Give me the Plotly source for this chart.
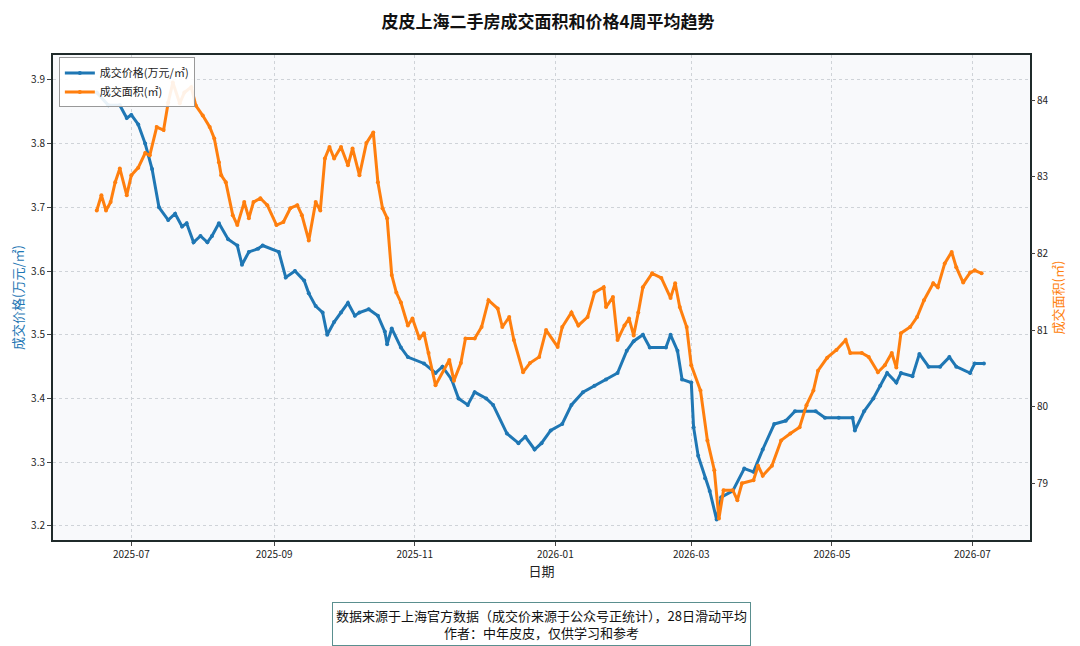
import plotly.graph_objects as go

price_dates = ["2025-06-16","2025-06-21","2025-06-26","2025-06-29","2025-07-01","2025-07-04","2025-07-07","2025-07-10","2025-07-13","2025-07-17","2025-07-20","2025-07-23","2025-07-25","2025-07-28","2025-07-31","2025-08-03","2025-08-05","2025-08-08","2025-08-12","2025-08-16","2025-08-18","2025-08-21","2025-08-25","2025-08-27","2025-09-03","2025-09-06","2025-09-10","2025-09-14","2025-09-16","2025-09-19","2025-09-22","2025-09-24","2025-09-27","2025-09-30","2025-10-03","2025-10-06","2025-10-08","2025-10-12","2025-10-16","2025-10-19","2025-10-20","2025-10-22","2025-10-26","2025-10-29","2025-11-05","2025-11-10","2025-11-13","2025-11-17","2025-11-20","2025-11-24","2025-11-27","2025-12-02","2025-12-05","2025-12-11","2025-12-16","2025-12-19","2025-12-23","2025-12-26","2025-12-30","2026-01-04","2026-01-08","2026-01-13","2026-01-18","2026-01-23","2026-01-28","2026-02-01","2026-02-04","2026-02-08","2026-02-11","2026-02-18","2026-02-20","2026-02-23","2026-02-25","2026-03-01","2026-03-02","2026-03-04","2026-03-07","2026-03-09","2026-03-12","2026-03-14","2026-03-19","2026-03-24","2026-03-28","2026-04-01","2026-04-06","2026-04-11","2026-04-15","2026-04-19","2026-04-24","2026-04-28","2026-05-04","2026-05-10","2026-05-11","2026-05-15","2026-05-19","2026-05-22","2026-05-25","2026-05-29","2026-05-31","2026-06-05","2026-06-08","2026-06-12","2026-06-17","2026-06-21","2026-06-24","2026-06-30","2026-07-02","2026-07-06"]
price_values = [3.88,3.86,3.86,3.84,3.845,3.83,3.80,3.76,3.70,3.68,3.69,3.67,3.675,3.645,3.655,3.645,3.655,3.675,3.65,3.64,3.61,3.63,3.635,3.64,3.63,3.59,3.60,3.585,3.565,3.545,3.535,3.50,3.52,3.535,3.55,3.53,3.535,3.54,3.53,3.505,3.485,3.51,3.48,3.465,3.455,3.44,3.45,3.43,3.40,3.39,3.41,3.40,3.39,3.345,3.33,3.34,3.32,3.33,3.35,3.36,3.39,3.41,3.42,3.43,3.44,3.475,3.49,3.50,3.48,3.48,3.50,3.475,3.43,3.425,3.355,3.31,3.275,3.255,3.21,3.245,3.255,3.29,3.285,3.32,3.36,3.365,3.38,3.38,3.38,3.37,3.37,3.37,3.35,3.38,3.40,3.42,3.44,3.425,3.44,3.435,3.47,3.45,3.45,3.465,3.45,3.44,3.455,3.455]

area_dates = ["2025-06-16","2025-06-18","2025-06-20","2025-06-22","2025-06-24","2025-06-26","2025-06-29","2025-07-01","2025-07-04","2025-07-07","2025-07-09","2025-07-12","2025-07-15","2025-07-17","2025-07-19","2025-07-22","2025-07-24","2025-07-27","2025-07-29","2025-08-01","2025-08-04","2025-08-06","2025-08-08","2025-08-09","2025-08-11","2025-08-14","2025-08-16","2025-08-19","2025-08-21","2025-08-23","2025-08-26","2025-08-29","2025-09-02","2025-09-05","2025-09-08","2025-09-11","2025-09-13","2025-09-16","2025-09-19","2025-09-21","2025-09-23","2025-09-25","2025-09-27","2025-09-30","2025-10-03","2025-10-05","2025-10-08","2025-10-11","2025-10-14","2025-10-16","2025-10-18","2025-10-20","2025-10-22","2025-10-24","2025-10-26","2025-10-29","2025-10-31","2025-11-03","2025-11-05","2025-11-07","2025-11-10","2025-11-16","2025-11-18","2025-11-21","2025-11-23","2025-11-27","2025-11-30","2025-12-03","2025-12-07","2025-12-09","2025-12-12","2025-12-14","2025-12-18","2025-12-21","2025-12-25","2025-12-28","2026-01-02","2026-01-04","2026-01-08","2026-01-11","2026-01-15","2026-01-18","2026-01-22","2026-01-23","2026-01-26","2026-01-28","2026-01-31","2026-02-02","2026-02-04","2026-02-06","2026-02-08","2026-02-12","2026-02-16","2026-02-20","2026-02-22","2026-02-24","2026-02-27","2026-03-01","2026-03-05","2026-03-08","2026-03-11","2026-03-13","2026-03-15","2026-03-19","2026-03-21","2026-03-23","2026-03-28","2026-03-30","2026-04-01","2026-04-05","2026-04-09","2026-04-13","2026-04-17","2026-04-20","2026-04-23","2026-04-25","2026-04-29","2026-05-03","2026-05-07","2026-05-09","2026-05-14","2026-05-17","2026-05-21","2026-05-24","2026-05-27","2026-05-29","2026-05-31","2026-06-04","2026-06-07","2026-06-10","2026-06-14","2026-06-16","2026-06-19","2026-06-22","2026-06-24","2026-06-27","2026-06-30","2026-07-02","2026-07-05"]
area_values = [82.56,82.76,82.56,82.67,82.93,83.11,82.76,83.02,83.12,83.31,83.28,83.65,83.61,83.97,84.23,83.96,84.10,84.17,83.93,83.80,83.65,83.50,83.19,83.02,82.93,82.50,82.37,82.67,82.46,82.67,82.72,82.63,82.37,82.41,82.59,82.63,82.50,82.17,82.67,82.56,83.24,83.39,83.24,83.39,83.15,83.37,83.02,83.44,83.58,82.93,82.59,82.46,81.72,81.49,81.36,81.06,81.15,80.89,80.96,80.70,80.28,80.61,80.34,80.57,80.89,80.89,81.04,81.39,81.28,81.04,81.17,80.87,80.45,80.57,80.65,81.00,80.78,81.04,81.23,81.06,81.17,81.49,81.56,81.30,81.43,80.87,81.06,81.15,80.93,81.23,81.56,81.74,81.68,81.42,81.61,81.30,81.04,80.54,80.21,79.56,79.17,78.54,78.91,78.91,78.78,79.00,79.04,79.23,79.10,79.23,79.56,79.65,79.73,80.02,80.21,80.47,80.64,80.74,80.87,80.70,80.70,80.65,80.45,80.54,80.70,80.51,80.96,81.04,81.17,81.39,81.61,81.56,81.87,82.02,81.82,81.62,81.75,81.78,81.74]

blue = "#1f77b4"
orange = "#ff7f0e"
font = "Noto Sans CJK SC, Noto Sans, sans-serif"

fig = go.Figure()
fig.add_trace(go.Scatter(x=price_dates, y=price_values, name="成交价格(万元/㎡)", mode="lines+markers",
                         line=dict(color=blue, width=3), marker=dict(size=4, color=blue)))
fig.add_trace(go.Scatter(x=area_dates, y=area_values, name="成交面积(㎡)", mode="lines+markers", yaxis="y2",
                         line=dict(color=orange, width=3), marker=dict(size=4, color=orange)))

grid = dict(showgrid=True, gridcolor="#cfd3d8", griddash="dot", gridwidth=1)
fig.update_layout(
    width=1080, height=646,
    paper_bgcolor="white", plot_bgcolor="#f8f9fb",
    font=dict(family=font, size=10, color="#222"),
    margin=dict(l=45, r=58, t=47, b=114, autoexpand=False),
    title=dict(text="<b>皮皮上海二手房成交面积和价格4周平均趋势</b>", x=0.5, xanchor="center", y=0.978, yanchor="middle", font=dict(size=17, color="#111")),
    xaxis=dict(type="date", range=["2025-05-28", "2026-07-26"], dtick="M2", tick0="2025-07-01", tickformat="%Y-%m",
               title=dict(text="日期", font=dict(size=13), standoff=4), ticks="outside", ticklen=4, automargin=False,
               showline=True, linecolor="#1f2a2a", linewidth=2, mirror=True, **grid),
    yaxis=dict(range=[3.178, 3.939], dtick=0.1, tickformat=".1f", ticks="outside", ticklen=4, automargin=False,
               title=dict(text="成交价格(万元/㎡)", font=dict(size=13, color=blue), standoff=6),
               showline=True, linecolor="#1f2a2a", linewidth=2, mirror=True, **grid),
    yaxis2=dict(range=[78.26, 84.59], dtick=1, overlaying="y", side="right", ticks="outside", ticklen=4, automargin=False,
                title=dict(text="成交面积(㎡)", font=dict(size=13, color=orange), standoff=6), showgrid=False),
    legend=dict(x=0.006, y=0.995, xanchor="left", yanchor="top", bgcolor="rgba(255,255,255,0.9)",
                bordercolor="#999", borderwidth=1, font=dict(size=11), tracegroupgap=0),
    showlegend=True,
)
fig.add_annotation(text="数据来源于上海官方数据（成交价来源于公众号正统计），28日滑动平均<br>作者：中年皮皮，仅供学习和参考",
                   xref="paper", yref="paper", x=0.5, y=-0.128, xanchor="center", yanchor="top", showarrow=False,
                   font=dict(size=13, color="#111"), bordercolor="#5a8f8f", borderwidth=1, borderpad=3, bgcolor="white")
fig.write_html("out.html")
